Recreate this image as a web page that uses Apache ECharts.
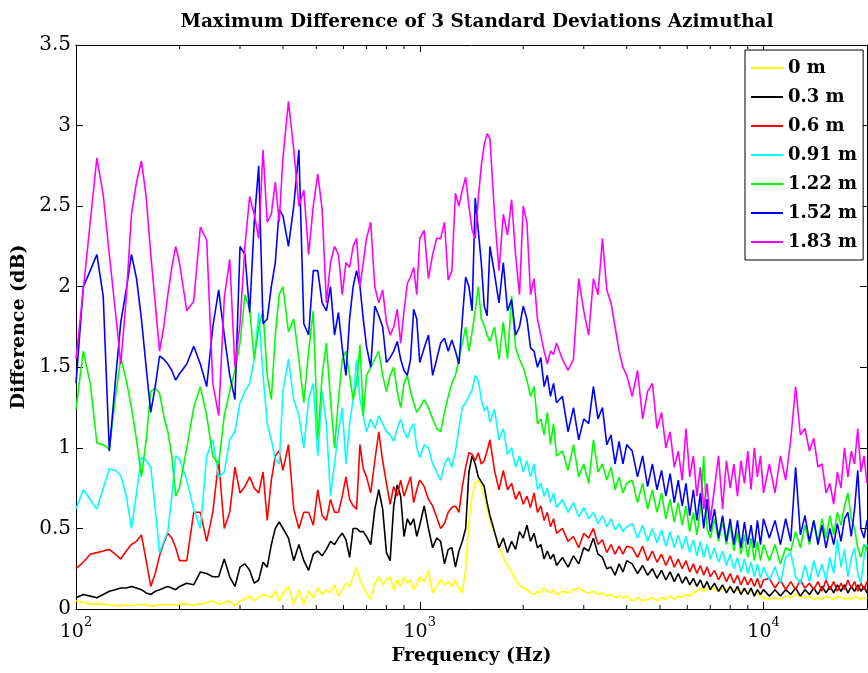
<!DOCTYPE html>
<html><head><meta charset="utf-8">
<script src="https://cdn.jsdelivr.net/npm/echarts@6/dist/echarts.min.js"></script>
<style>html,body{margin:0;padding:0;background:#fff}#c{width:868px;height:673px}</style>
</head><body><div id="c"></div>
<script>
// Frequency grid (Hz)
const freqs = [
 100,105,110,115,120,125,130,135,140,145,150,155,160,165,170,175,180,185,190,195,200,
 210,220,230,240,250,260,270,280,290,300,310,320,330,340,350,360,370,380,390,400,
 415,430,445,460,475,490,505,520,535,550,565,580,595,610,625,640,655,670,685,700,
 720,740,760,780,800,820,840,860,880,900,920,940,960,980,1000,
 1030,1060,1090,1120,1150,1180,1210,1240,1270,1300,1330,1360,1390,1420,1450,1480,1510,1540,1570,1600,
 1650,1700,1750,1800,1850,1900,1950,2000,2050,2100,2150,2200,2250,2300,2350,2400,2450,2500,
 2600,2700,2800,2900,3000,3100,3200,3300,3400,3500,3600,3700,3800,3900,4000,
 4150,4300,4450,4600,4750,4900,5050,5200,5350,5500,5650,5800,5950,6100,6250,6400,6550,6700,6850,7000,
 7200,7400,7600,7800,8000,8200,8400,8600,8800,9000,9200,9400,9600,9800,10000,
 10400,10800,11200,11600,12000,12400,12800,13200,13600,14000,14400,14800,15200,15600,16000,16400,16800,17200,17600,18000,18400,18800,19200,19600,20000
];
const diff0m = [
 0.05,0.04,0.03,0.03,0.03,0.025,0.02,0.02,0.025,0.02,0.025,0.03,0.025,0.02,0.02,0.025,0.03,0.025,0.03,0.025,0.03,
 0.03,0.025,0.03,0.04,0.05,0.03,0.04,0.05,0.02,0.05,0.06,0.08,0.05,0.07,0.09,0.08,0.07,0.11,0.05,0.1,
 0.14,0.03,0.12,0.03,0.11,0.07,0.13,0.09,0.12,0.1,0.15,0.08,0.12,0.16,0.14,0.2,0.26,0.18,0.14,0.1,
 0.06,0.16,0.2,0.15,0.18,0.2,0.12,0.18,0.14,0.2,0.16,0.18,0.12,0.15,0.2,
 0.17,0.24,0.1,0.14,0.18,0.15,0.17,0.14,0.18,0.13,0.1,0.25,0.55,0.7,0.78,0.8,0.76,0.7,0.62,0.55,
 0.47,0.39,0.32,0.27,0.23,0.18,0.15,0.13,0.12,0.1,0.09,0.11,0.1,0.13,0.11,0.1,0.12,0.09,
 0.11,0.1,0.12,0.13,0.11,0.1,0.11,0.09,0.1,0.08,0.09,0.07,0.08,0.07,0.08,
 0.05,0.07,0.05,0.06,0.07,0.05,0.07,0.06,0.08,0.06,0.08,0.07,0.09,0.08,0.1,0.11,0.13,0.11,0.13,0.12,
 0.13,0.11,0.13,0.12,0.14,0.11,0.12,0.1,0.12,0.1,0.11,0.09,0.1,0.08,0.07,
 0.06,0.07,0.06,0.08,0.07,0.09,0.08,0.07,0.08,0.06,0.07,0.06,0.08,0.07,0.06,0.08,0.07,0.06,0.07,0.06,0.08,0.07,0.06,0.07,0.06
];
const diff03m = [
 0.07,0.09,0.08,0.07,0.09,0.11,0.12,0.13,0.13,0.14,0.13,0.12,0.1,0.09,0.11,0.12,0.13,0.14,0.13,0.12,0.14,
 0.16,0.15,0.23,0.22,0.2,0.2,0.31,0.2,0.14,0.26,0.28,0.24,0.16,0.18,0.29,0.26,0.4,0.5,0.54,0.5,
 0.44,0.3,0.4,0.3,0.24,0.34,0.36,0.33,0.37,0.42,0.4,0.44,0.47,0.43,0.32,0.5,0.5,0.48,0.48,0.45,
 0.4,0.62,0.74,0.62,0.35,0.3,0.64,0.77,0.7,0.45,0.56,0.52,0.56,0.45,0.52,
 0.64,0.5,0.38,0.44,0.42,0.28,0.37,0.38,0.26,0.36,0.42,0.5,0.85,0.95,0.9,0.82,0.79,0.76,0.66,0.58,
 0.48,0.38,0.44,0.35,0.42,0.37,0.48,0.44,0.52,0.42,0.47,0.38,0.4,0.31,0.36,0.31,0.34,0.27,
 0.32,0.26,0.33,0.28,0.38,0.36,0.44,0.34,0.32,0.25,0.26,0.21,0.28,0.23,0.3,
 0.28,0.22,0.27,0.21,0.25,0.19,0.24,0.18,0.23,0.17,0.22,0.16,0.2,0.15,0.19,0.14,0.18,0.13,0.17,0.12,
 0.16,0.11,0.15,0.1,0.14,0.1,0.14,0.09,0.13,0.09,0.13,0.08,0.12,0.09,0.12,
 0.08,0.12,0.08,0.12,0.09,0.13,0.08,0.12,0.09,0.13,0.09,0.14,0.1,0.14,0.1,0.15,0.11,0.15,0.1,0.14,0.11,0.15,0.11,0.14,0.1
];
const diff06m = [
 0.25,0.29,0.34,0.35,0.36,0.37,0.34,0.31,0.36,0.4,0.42,0.46,0.3,0.14,0.22,0.33,0.41,0.47,0.44,0.38,0.3,
 0.3,0.6,0.6,0.42,0.6,0.92,0.5,0.6,0.88,0.72,0.76,0.82,0.75,0.72,0.85,0.55,0.8,0.95,0.98,0.86,
 1.02,0.62,0.5,0.6,0.6,0.52,0.74,0.58,0.55,0.68,0.6,0.6,0.7,0.82,0.68,0.64,0.62,1.02,0.87,0.82,
 0.72,0.92,1.1,0.92,0.78,0.65,0.76,0.7,0.8,0.7,0.76,0.82,0.66,0.74,0.8,
 0.76,0.68,0.64,0.57,0.5,0.53,0.6,0.63,0.64,0.6,0.76,0.88,0.97,0.96,0.92,0.97,0.9,0.92,0.98,1.05,
 0.86,0.74,0.86,0.74,0.78,0.68,0.73,0.65,0.7,0.63,0.72,0.6,0.64,0.55,0.6,0.51,0.56,0.47,
 0.5,0.42,0.45,0.38,0.47,0.44,0.5,0.4,0.43,0.35,0.4,0.34,0.39,0.34,0.39,
 0.38,0.32,0.39,0.3,0.36,0.29,0.34,0.27,0.33,0.26,0.31,0.25,0.3,0.23,0.28,0.22,0.27,0.21,0.26,0.2,
 0.24,0.18,0.23,0.17,0.22,0.16,0.21,0.15,0.2,0.15,0.19,0.14,0.19,0.13,0.18,
 0.19,0.13,0.18,0.12,0.17,0.12,0.18,0.13,0.16,0.12,0.17,0.11,0.18,0.12,0.17,0.11,0.16,0.12,0.18,0.13,0.17,0.11,0.16,0.12,0.17
];
const diff091m = [
 0.62,0.74,0.68,0.62,0.75,0.87,0.86,0.83,0.7,0.5,0.72,0.94,0.92,0.88,0.62,0.35,0.42,0.48,0.7,0.95,0.93,
 0.8,0.62,0.5,0.95,1.05,0.82,0.85,1.05,1.1,1.28,1.35,1.4,1.55,1.84,1.45,1.15,1.05,0.93,0.9,1.35,
 1.55,1.3,1.2,1.0,1.3,1.4,0.95,1.35,1.15,0.7,0.9,1.1,1.25,0.9,1.15,1.3,1.55,1.3,1.2,1.1,
 1.18,1.12,1.2,1.15,1.1,1.08,1.04,1.12,1.18,1.1,1.06,1.12,1.15,1.0,0.94,
 1.02,1.0,0.9,0.85,0.8,0.9,0.94,0.88,0.98,1.12,1.25,1.28,1.32,1.36,1.45,1.42,1.3,1.23,1.26,1.16,
 1.24,1.05,1.12,0.96,1.0,0.88,0.95,0.85,0.92,0.82,0.9,0.74,0.78,0.7,0.75,0.66,0.72,0.63,
 0.68,0.6,0.66,0.57,0.63,0.56,0.6,0.53,0.58,0.51,0.56,0.49,0.53,0.48,0.51,
 0.53,0.44,0.52,0.42,0.5,0.41,0.49,0.39,0.48,0.38,0.46,0.37,0.45,0.35,0.43,0.33,0.42,0.32,0.4,0.31,
 0.38,0.29,0.36,0.27,0.34,0.25,0.32,0.23,0.31,0.22,0.29,0.2,0.28,0.19,0.26,
 0.18,0.26,0.16,0.32,0.35,0.2,0.16,0.27,0.17,0.3,0.2,0.28,0.18,0.32,0.22,0.43,0.26,0.37,0.2,0.32,0.38,0.22,0.16,0.32,0.4
];
const diff122m = [
 1.24,1.6,1.4,1.03,1.02,0.99,1.3,1.56,1.42,1.25,1.05,0.82,1.05,1.35,1.37,1.34,1.2,1.1,0.95,0.7,0.75,
 1.0,1.25,1.38,1.2,0.95,0.9,1.2,1.35,1.48,1.65,1.95,1.86,1.55,1.75,1.85,1.45,1.3,1.7,1.95,2.0,
 1.72,1.8,1.55,1.28,1.6,1.85,1.05,1.45,1.65,1.3,1.0,1.3,1.55,1.6,1.45,1.3,1.4,1.64,1.2,1.45,
 1.5,1.55,1.6,1.45,1.35,1.45,1.5,1.35,1.25,1.4,1.45,1.35,1.28,1.22,1.25,
 1.3,1.25,1.18,1.12,1.1,1.22,1.32,1.4,1.45,1.55,1.65,1.75,1.6,1.72,1.85,2.0,1.8,1.76,1.7,1.66,
 1.75,1.55,1.78,1.55,1.94,1.62,1.55,1.5,1.42,1.32,1.38,1.15,1.18,1.08,1.22,1.02,1.15,0.95,
 0.98,0.86,1.02,0.82,0.9,0.78,1.05,0.85,0.9,0.8,0.88,0.74,0.82,0.72,0.78,
 0.8,0.66,0.78,0.62,0.74,0.6,0.72,0.56,0.68,0.54,0.66,0.52,0.64,0.48,0.6,0.46,0.62,0.95,0.5,0.44,
 0.56,0.42,0.54,0.4,0.52,0.36,0.48,0.34,0.46,0.32,0.44,0.3,0.42,0.3,0.4,
 0.3,0.4,0.28,0.38,0.36,0.48,0.38,0.52,0.4,0.55,0.42,0.56,0.44,0.58,0.46,0.6,0.52,0.64,0.72,0.56,0.5,0.38,0.32,0.4,0.36
];
const diff152m = [
 1.4,2.0,2.1,2.2,1.94,0.98,1.4,1.78,1.98,2.2,2.05,1.8,1.5,1.22,1.38,1.57,1.55,1.52,1.48,1.42,1.46,
 1.52,1.63,1.52,1.38,1.75,1.98,1.7,1.45,1.3,2.25,2.2,1.84,2.4,2.75,1.77,1.8,2.0,2.15,2.48,2.44,
 2.25,2.5,2.85,1.77,1.7,2.1,2.1,1.9,1.85,2.0,1.7,1.84,1.62,1.45,1.8,2.0,2.1,2.0,1.8,1.63,
 1.5,1.88,1.82,1.75,1.53,1.56,1.6,1.66,1.55,1.48,1.45,1.55,1.86,1.8,1.53,
 1.62,1.7,1.45,1.55,1.65,1.68,1.6,1.67,1.6,1.52,1.8,2.06,2.0,1.85,2.55,2.35,2.15,1.88,1.82,2.25,
 2.08,1.9,2.15,1.85,1.92,1.7,1.75,1.88,1.8,1.62,1.6,1.5,1.56,1.38,1.45,1.32,1.4,1.28,
 1.32,1.1,1.25,1.05,1.18,1.15,1.38,1.18,1.25,1.02,1.08,0.9,1.04,0.9,1.02,
 0.98,0.82,0.95,0.76,0.9,0.74,0.86,0.7,0.84,0.66,0.8,0.64,0.78,0.58,0.74,0.55,0.72,0.5,0.68,0.48,
 0.62,0.44,0.58,0.42,0.56,0.4,0.55,0.38,0.54,0.4,0.52,0.38,0.55,0.4,0.56,
 0.44,0.55,0.4,0.56,0.42,0.88,0.46,0.58,0.42,0.55,0.4,0.52,0.38,0.5,0.4,0.53,0.42,0.56,0.6,0.45,0.62,0.86,0.5,0.44,0.55
];
const diff183m = [
 1.55,1.98,2.4,2.8,2.57,2.2,1.86,1.52,1.93,2.45,2.65,2.78,2.56,2.2,1.9,1.6,1.75,1.95,2.12,2.25,2.15,
 1.85,1.91,2.37,2.29,1.4,1.2,1.93,2.17,1.5,1.77,2.25,2.56,2.45,2.3,2.85,2.4,2.45,2.65,2.4,2.8,
 3.15,2.85,2.5,2.6,2.2,2.5,2.7,2.48,1.9,2.15,2.25,2.2,1.95,2.15,2.12,2.25,2.3,2.0,2.15,2.3,
 2.4,2.0,1.9,1.98,1.78,1.7,1.75,1.86,1.65,1.85,2.02,2.06,2.12,1.95,2.3,
 2.35,2.05,2.2,2.3,2.3,2.4,2.04,2.1,2.58,2.5,2.6,2.68,2.5,2.35,2.3,2.55,2.75,2.88,2.95,2.92,
 2.45,2.1,2.45,2.32,2.54,2.2,1.95,2.5,2.4,1.95,2.05,1.8,1.7,1.6,1.52,1.6,1.58,1.65,
 1.55,1.48,1.55,2.05,1.85,1.7,2.05,1.95,2.3,1.98,1.9,1.75,1.6,1.5,1.45,
 1.32,1.48,1.18,1.35,1.4,1.12,1.22,1.0,1.1,0.88,0.98,0.8,1.12,0.82,0.95,0.7,0.88,0.62,0.78,0.55,
 0.75,0.95,0.62,0.92,0.75,0.9,0.7,0.92,0.78,0.98,0.74,1.0,0.82,0.95,0.72,
 0.9,0.72,0.95,0.8,1.05,1.38,1.08,1.12,0.98,1.06,0.88,0.9,0.72,0.78,0.65,0.85,0.75,1.0,0.82,0.98,0.9,1.12,0.85,0.95,0.78
];
const seriesNames = ['0 m','0.3 m','0.6 m','0.91 m','1.22 m','1.52 m','1.83 m'];
const seriesColors = ['#ffff00','#000000','#ff0000','#00ffff','#00ff00','#0000ff','#ff00ff'];
const seriesValues = [diff0m, diff03m, diff06m, diff091m, diff122m, diff152m, diff183m];
const minorTickFreqs = [200,300,400,500,600,700,800,900,2000,3000,4000,5000,6000,7000,8000,9000];
const titleText = 'Maximum Difference of 3 Standard Deviations Azimuthal';
const xName = 'Frequency (Hz)';
const yName = 'Difference (dB)';

const FONT = 'DejaVu Serif';
const chart = echarts.init(document.getElementById('c'), null, {renderer: 'canvas'});

const lineSeries = seriesValues.map((vals, k) => ({
  name: seriesNames[k],
  type: 'line',
  data: freqs.map((f, i) => [f, vals[i]]),
  symbol: 'none',
  showSymbol: false,
  lineStyle: {color: seriesColors[k], width: 1.6},
  itemStyle: {color: seriesColors[k]},
  emphasis: {disabled: true},
  animation: false
}));

const minorTickSeries = {
  type: 'custom',
  silent: true,
  animation: false,
  data: minorTickFreqs.map(f => [f, 0]),
  z: 10,
  renderItem: (params, api) => {
    const f = api.value(0);
    const b = api.coord([f, 0]);
    const t = api.coord([f, 3.5]);
    return {type: 'group', children: [
      {type: 'line', shape: {x1: b[0], y1: b[1], x2: b[0], y2: b[1] - 4}, style: {stroke: '#000', lineWidth: 1}},
      {type: 'line', shape: {x1: t[0], y1: t[1], x2: t[0], y2: t[1] + 4}, style: {stroke: '#000', lineWidth: 1}}
    ]};
  }
};

const axisLine = {show: true, onZero: false, lineStyle: {color: '#000', width: 1}};
const axisTick = {show: true, inside: true, length: 7, lineStyle: {color: '#000', width: 1}};

chart.setOption({
  animation: false,
  backgroundColor: '#fff',
  title: {
    text: titleText, left: 472, top: 8, textAlign: 'center',
    textStyle: {fontFamily: FONT, fontWeight: 'bold', fontSize: 18.5, color: '#000'}
  },
  legend: {
    data: seriesNames, orient: 'vertical', left: 745, top: 50,
    padding: [8, 6, 8, 6], itemGap: 9, itemWidth: 32, itemHeight: 2, icon: 'rect',
    backgroundColor: '#fff', borderColor: '#000', borderWidth: 1,
    textStyle: {fontFamily: FONT, fontWeight: 'bold', fontSize: 18, color: '#000', lineHeight: 20}
  },
  grid: {left: 76, right: 1, top: 45, bottom: 64, containLabel: false},
  xAxis: [{
    type: 'log', logBase: 10, min: 100, max: 20000, position: 'bottom',
    axisLine, axisTick, splitLine: {show: false}, minorTick: {show: false},
    axisLabel: {
      margin: 7, showMaxLabel: false,
      formatter: v => {
        const e = Math.round(Math.log10(v));
        return Math.abs(Math.pow(10, e) - v) < 1e-6 * v ? '{b|10}{s|' + e + '}' : '';
      },
      rich: {
        b: {fontFamily: FONT, fontSize: 19, color: '#000', lineHeight: 32},
        s: {fontFamily: FONT, fontSize: 13, color: '#000', lineHeight: 13, verticalAlign: 'top'}
      }
    },
    name: xName, nameLocation: 'middle', nameGap: 36,
    nameTextStyle: {fontFamily: FONT, fontWeight: 'bold', fontSize: 18.5, color: '#000'}
  }, {
    type: 'log', logBase: 10, min: 100, max: 20000, position: 'top',
    axisLine, axisTick, splitLine: {show: false}, axisLabel: {show: false}
  }],
  yAxis: [{
    type: 'value', min: 0, max: 3.5, interval: 0.5, position: 'left',
    axisLine, axisTick, splitLine: {show: false},
    axisLabel: {fontFamily: FONT, fontSize: 20, color: '#000', margin: 5},
    name: yName, nameLocation: 'middle', nameGap: 41, nameRotate: 90,
    nameTextStyle: {fontFamily: FONT, fontWeight: 'bold', fontSize: 19, color: '#000'}
  }, {
    type: 'value', min: 0, max: 3.5, interval: 0.5, position: 'right',
    axisLine, axisTick, splitLine: {show: false}, axisLabel: {show: false}
  }],
  series: [...lineSeries, minorTickSeries]
});
</script>
</body></html>
